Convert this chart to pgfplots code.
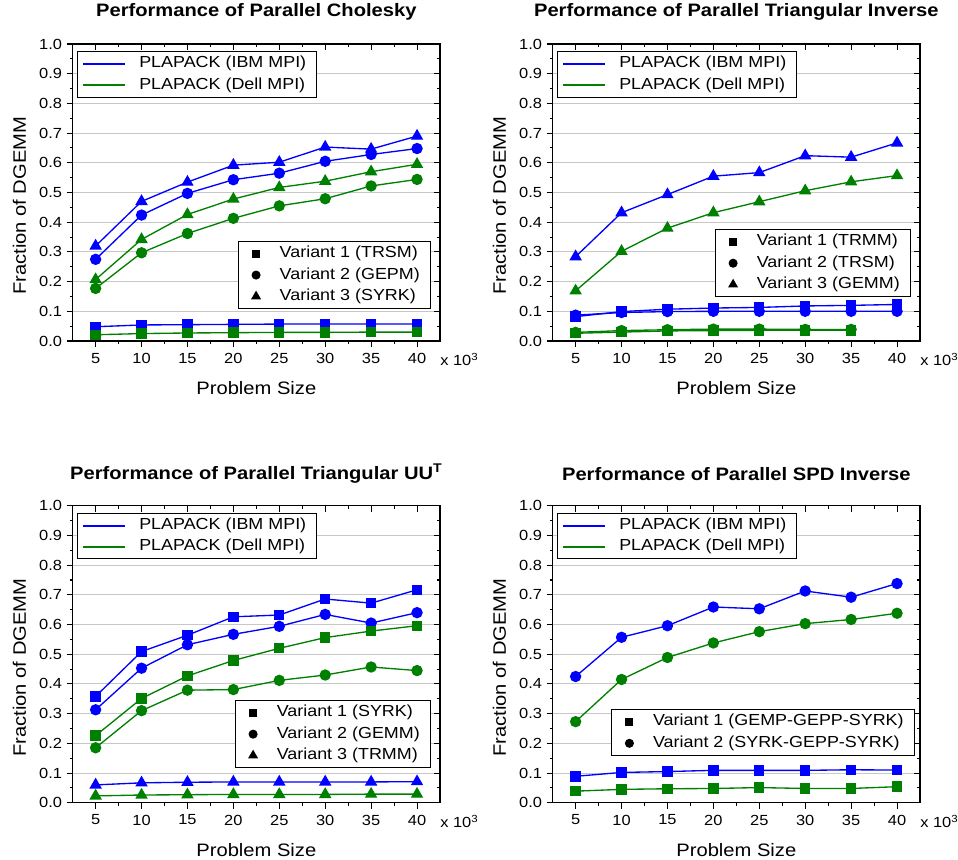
\documentclass[border=0pt]{standalone}
\usepackage{fontspec}
\setmainfont[FakeStretch=1.12]{Liberation Sans}
\usepackage{pgfplots}
\usepackage{pgfplotstable}
\pgfplotsset{compat=1.18}

\definecolor{ibm}{RGB}{0,0,255}
\definecolor{dell}{RGB}{0,128,0}

\pgfplotstableread{
n  ibma  ibmb  ibmc  della dellb dellc
5  0.048 0.275 0.320 0.021 0.177 0.207
10 0.054 0.424 0.470 0.025 0.297 0.342
15 0.055 0.497 0.535 0.027 0.362 0.426
20 0.056 0.543 0.592 0.028 0.413 0.478
25 0.057 0.565 0.602 0.029 0.455 0.517
30 0.057 0.605 0.653 0.029 0.479 0.538
35 0.057 0.628 0.646 0.030 0.522 0.570
40 0.057 0.648 0.690 0.030 0.544 0.595
}\chol
\pgfplotstableread{
n  ibma  ibmb  ibmc  della dellb dellc
5  0.082 0.087 0.284 0.026 0.029 0.169
10 0.099 0.096 0.432 0.030 0.035 0.302
15 0.107 0.099 0.493 0.034 0.038 0.380
20 0.111 0.100 0.555 0.035 0.040 0.432
25 0.113 0.100 0.567 0.036 0.040 0.469
30 0.118 0.100 0.624 0.036 0.039 0.506
35 0.120 0.100 0.619 0.036 0.039 0.536
40 0.123 0.100 0.667 nan   nan   0.557
}\trinv
\pgfplotstableread{
n  ibma  ibmb  ibmc  della dellb dellc
5  0.358 0.313 0.060 0.226 0.185 0.023
10 0.509 0.453 0.067 0.351 0.310 0.026
15 0.564 0.532 0.069 0.427 0.379 0.027
20 0.626 0.567 0.070 0.479 0.381 0.028
25 0.632 0.594 0.070 0.520 0.412 0.028
30 0.686 0.634 0.070 0.556 0.430 0.028
35 0.672 0.605 0.070 0.578 0.457 0.029
40 0.717 0.640 0.071 0.596 0.445 0.029
}\uut
\pgfplotstableread{
n  ibma  ibmb  della dellb
5  0.089 0.425 0.039 0.273
10 0.102 0.557 0.045 0.415
15 0.105 0.596 0.047 0.489
20 0.109 0.659 0.048 0.538
25 0.109 0.653 0.051 0.576
30 0.109 0.713 0.048 0.603
35 0.111 0.692 0.048 0.617
40 0.110 0.738 0.054 0.638
}\spd

\pgfplotsset{
  panel/.style={
    scale only axis, width=275.5pt, height=222.75pt,
    anchor=south west,
    xmin=2.5, xmax=42.5, ymin=0, ymax=1,
    xtick={5,10,15,20,25,30,35,40},
    ytick={0,0.1,0.2,0.3,0.4,0.5,0.6,0.7,0.8,0.9,1.0},
    minor x tick num=1, minor y tick num=1,
    major tick length=4.5pt, minor tick length=2.25pt,
    axis line style={line width=0.8pt},
    every tick/.style={black, line width=0.8pt},
    legend style={draw=black, line width=0.75pt, fill=white,
      font=\fontsize{12}{14}\selectfont, inner xsep=3pt, inner ysep=1pt,
      nodes={inner xsep=5pt, inner ysep=2pt, text height=9pt, text depth=3pt}},
    legend cell align=left,
  },
  mainax/.style={panel,
    clip mode=individual,
    xtick pos=left, ytick pos=left, tick align=outside,
    ymajorgrids, major grid style={black!22, line width=0.7pt},
    tick label style={font=\fontsize{11}{13}\selectfont},
    /pgf/number format/assume math mode=true,
    y tick label style={/pgf/number format/fixed,
      /pgf/number format/fixed zerofill, /pgf/number format/precision=1},
    xticklabel style={yshift=-1pt},
    xlabel={Problem Size}, ylabel={Fraction of DGEMM},
    every axis x label/.style={at={(axis description cs:0.5,-0.158)},
      anchor=center, font=\fontsize{13.5}{16}\selectfont},
    every axis y label/.style={at={(axis description cs:-0.145,0.455)},
      rotate=90, anchor=center, font=\fontsize{13.5}{16}\selectfont},
    title style={at={(axis description cs:0.5,1.08)}, anchor=center,
      font=\bfseries\fontsize{13.5}{16}\selectfont},
    legend style={at={(axis description cs:0.013,0.975)}, anchor=north west},
    legend image code/.code={\path[draw=none, fill=none] (0pt,0pt) (37.3pt,0pt);
      \draw[#1] (0pt,0pt) -- (31.3pt,0pt);},
  },
  ovlax/.style={panel,
    xtick pos=right, ytick pos=right, tick align=inside,
    xticklabels={}, yticklabels={},
    legend image code/.code={\path[draw=none, fill=none] (0pt,0pt) (23.25pt,0pt);
      \draw[#1] plot coordinates {(10.5pt,0pt)};},
  },
  sq/.style={mark=square*, mark size=3.4pt, line width=1pt},
  ci/.style={mark=*, mark size=3.75pt, line width=1pt},
  tr/.style={mark=triangle*, mark size=4.4pt, line width=1pt},
  lsq/.style={only marks, black, mark=square*, mark size=2.6pt},
  lci/.style={only marks, black, mark=*, mark size=3pt},
  ltr/.style={only marks, black, mark=triangle*, mark size=3.6pt},
}

\newcommand{\legendlines}{%
  \addlegendimage{draw=ibm, line width=1.4pt, no markers}
  \addlegendentry{PLAPACK (IBM MPI)}
  \addlegendimage{draw=dell, line width=1.4pt, no markers}
  \addlegendentry{PLAPACK (Dell MPI)}}

\newcommand{\xtenthree}{\node[anchor=west, inner sep=0pt, font=\fontsize{11}{13}\selectfont]
  at (rel axis cs:1,0) [yshift=-14pt] {x 10\textsuperscript{3}};}

\begin{document}
\begin{tikzpicture}
\useasboundingbox (-54.5pt,-389.25pt) rectangle (664pt,255.75pt);

% ---- Cholesky
\begin{axis}[mainax, at={(0pt,0pt)}, title={Performance of Parallel Cholesky}]
\addplot[forget plot, ibm, sq] table[x=n, y=ibma] {\chol};
\addplot[forget plot, ibm, ci] table[x=n, y=ibmb] {\chol};
\addplot[forget plot, ibm, tr] table[x=n, y=ibmc] {\chol};
\addplot[forget plot, dell, sq] table[x=n, y=della] {\chol};
\addplot[forget plot, dell, ci] table[x=n, y=dellb] {\chol};
\addplot[forget plot, dell, tr] table[x=n, y=dellc] {\chol};
\legendlines
\xtenthree
\end{axis}
\begin{axis}[ovlax, at={(0pt,0pt)},
  legend style={at={(axis description cs:0.9755,0.108)}, anchor=south east}]
\addlegendimage{lsq}\addlegendentry{Variant 1 (TRSM)}
\addlegendimage{lci}\addlegendentry{Variant 2 (GEPM)}
\addlegendimage{ltr}\addlegendentry{Variant 3 (SYRK)}
\end{axis}

% ---- Triangular inverse
\begin{axis}[mainax, at={(360pt,0pt)}, title={Performance of Parallel Triangular Inverse}]
\addplot[forget plot, ibm, sq] table[x=n, y=ibma] {\trinv};
\addplot[forget plot, ibm, ci] table[x=n, y=ibmb] {\trinv};
\addplot[forget plot, ibm, tr] table[x=n, y=ibmc] {\trinv};
\addplot[forget plot, dell, sq] table[x=n, y=della] {\trinv};
\addplot[forget plot, dell, ci] table[x=n, y=dellb] {\trinv};
\addplot[forget plot, dell, tr] table[x=n, y=dellc] {\trinv};
\legendlines
\xtenthree
\end{axis}
\begin{axis}[ovlax, at={(360pt,0pt)},
  legend style={at={(axis description cs:0.9755,0.148)}, anchor=south east}]
\addlegendimage{lsq}\addlegendentry{Variant 1 (TRMM)}
\addlegendimage{lci}\addlegendentry{Variant 2 (TRSM)}
\addlegendimage{ltr}\addlegendentry{Variant 3 (GEMM)}
\end{axis}

% ---- Triangular UU^T
\begin{axis}[mainax, at={(0pt,-346.3pt)}, title={Performance of Parallel Triangular UU\textsuperscript{T}}]
\addplot[forget plot, ibm, sq] table[x=n, y=ibma] {\uut};
\addplot[forget plot, ibm, ci] table[x=n, y=ibmb] {\uut};
\addplot[forget plot, ibm, tr] table[x=n, y=ibmc] {\uut};
\addplot[forget plot, dell, sq] table[x=n, y=della] {\uut};
\addplot[forget plot, dell, ci] table[x=n, y=dellb] {\uut};
\addplot[forget plot, dell, tr] table[x=n, y=dellc] {\uut};
\legendlines
\xtenthree
\end{axis}
\begin{axis}[ovlax, at={(0pt,-346.3pt)},
  legend style={at={(axis description cs:0.9755,0.117)}, anchor=south east}]
\addlegendimage{lsq}\addlegendentry{Variant 1 (SYRK)}
\addlegendimage{lci}\addlegendentry{Variant 2 (GEMM)}
\addlegendimage{ltr}\addlegendentry{Variant 3 (TRMM)}
\end{axis}

% ---- SPD inverse
\begin{axis}[mainax, at={(360pt,-346.3pt)}, title={Performance of Parallel SPD Inverse}]
\addplot[forget plot, ibm, sq] table[x=n, y=ibma] {\spd};
\addplot[forget plot, ibm, ci] table[x=n, y=ibmb] {\spd};
\addplot[forget plot, dell, sq] table[x=n, y=della] {\spd};
\addplot[forget plot, dell, ci] table[x=n, y=dellb] {\spd};
\legendlines
\xtenthree
\end{axis}
\begin{axis}[ovlax, at={(360pt,-346.3pt)},
  legend style={at={(axis description cs:0.986,0.158)}, anchor=south east}]
\addlegendimage{lsq}\addlegendentry{Variant 1 (GEMP-GEPP-SYRK)}
\addlegendimage{lci}\addlegendentry{Variant 2 (SYRK-GEPP-SYRK)}
\end{axis}
\end{tikzpicture}
\end{document}
